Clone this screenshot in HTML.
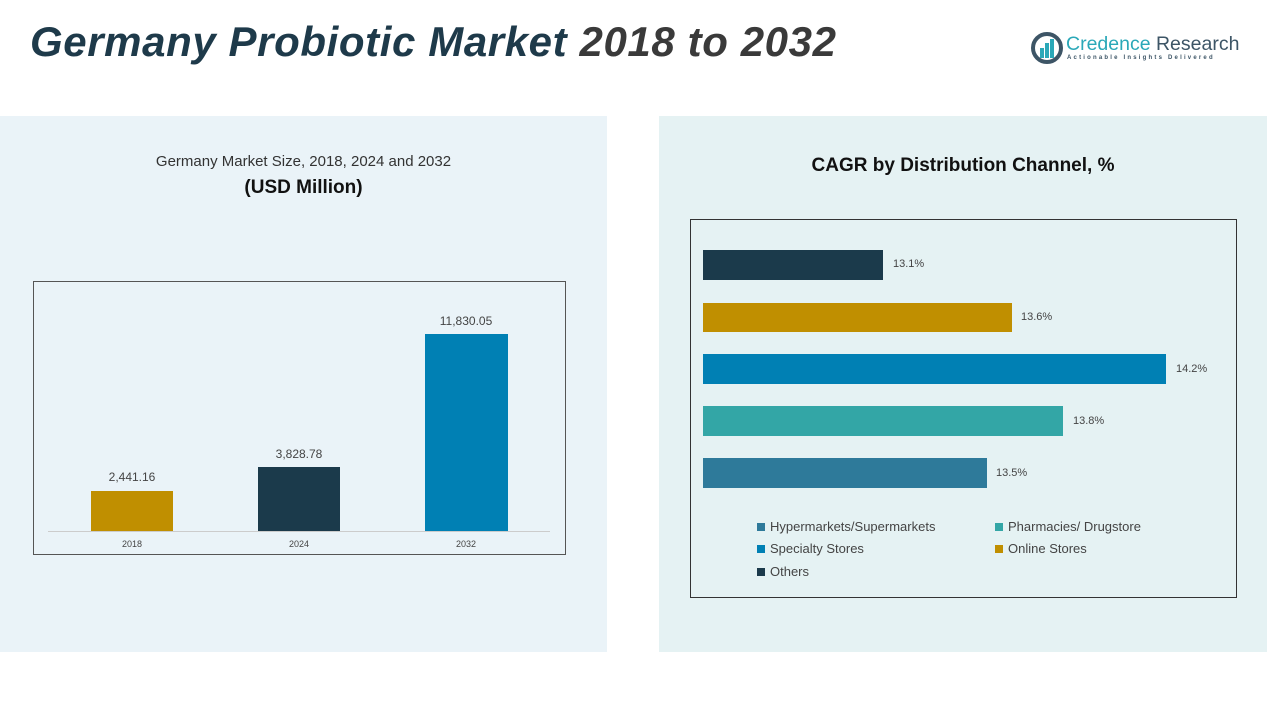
<!DOCTYPE html>
<html><head><meta charset="utf-8"><style>
body{margin:0;width:1267px;height:713px;background:#fff;position:relative;overflow:hidden;font-family:"Liberation Sans",sans-serif;}
.a{position:absolute}
.t{white-space:nowrap}
</style></head><body>
<div class="a t" style="left:30px;top:18px;font-size:42px;font-weight:bold;font-style:italic;color:#1e3a4a;letter-spacing:0.6px">Germany Probiotic Market <span style="color:#3a3a3a">2018 to 2032</span></div>
<svg class="a" style="left:1031px;top:32px" width="32" height="32"><circle cx="16" cy="16" r="14" fill="none" stroke="#3d5566" stroke-width="4"/><rect x="9" y="16" width="4" height="10" fill="#2aa8b8"/><rect x="14" y="11" width="4" height="15" fill="#2aa8b8"/><rect x="19" y="7" width="4" height="19" fill="#2aa8b8"/></svg>
<div class="a t" style="left:1066px;top:33px;font-size:19.5px;color:#2aa8b8">Credence <span style="color:#3d5566">Research</span></div>
<div class="a t" style="left:1067px;top:55px;font-size:6px;letter-spacing:2.2px;color:#3d5566;font-weight:bold">Actionable Insights Delivered</div>

<div class="a" style="left:0;top:116px;width:607px;height:536px;background:#eaf3f8"></div>
<div class="a" style="left:659px;top:116px;width:608px;height:536px;background:#e5f2f3"></div>

<div class="a t" style="left:0;width:607px;text-align:center;top:153px;font-size:15px;color:#333">Germany Market Size, 2018, 2024 and 2032</div>
<div class="a t" style="left:0;width:607px;text-align:center;top:177px;font-size:19px;font-weight:bold;color:#111">(USD Million)</div>

<div class="a" style="left:33px;top:281px;width:531px;height:272px;border:1px solid #555"></div>
<div class="a" style="left:48px;top:531px;width:502px;height:1px;background:#ccc"></div>
<div class="a" style="left:91px;top:491px;width:82px;height:40px;background:#c08f00"></div>
<div class="a" style="left:258px;top:467px;width:82px;height:64px;background:#1b3a4b"></div>
<div class="a" style="left:425px;top:334px;width:83px;height:197px;background:#0080b4"></div>
<div class="a t" style="left:82px;width:100px;text-align:center;top:470px;font-size:12px;color:#444">2,441.16</div>
<div class="a t" style="left:249px;width:100px;text-align:center;top:447px;font-size:12px;color:#444">3,828.78</div>
<div class="a t" style="left:416px;width:100px;text-align:center;top:314px;font-size:12px;color:#444">11,830.05</div>
<div class="a t" style="left:82px;width:100px;text-align:center;top:539px;font-size:9px;color:#444">2018</div>
<div class="a t" style="left:249px;width:100px;text-align:center;top:539px;font-size:9px;color:#444">2024</div>
<div class="a t" style="left:416px;width:100px;text-align:center;top:539px;font-size:9px;color:#444">2032</div>

<div class="a t" style="left:659px;width:608px;text-align:center;top:155px;font-size:19px;font-weight:bold;color:#111">CAGR by Distribution Channel, %</div>
<div class="a" style="left:690px;top:219px;width:545px;height:377px;border:1px solid #333"></div>
<div class="a" style="left:703px;top:250px;width:180px;height:30px;background:#1b3a4b"></div>
<div class="a" style="left:703px;top:303px;width:309px;height:29px;background:#c08f00"></div>
<div class="a" style="left:703px;top:354px;width:463px;height:30px;background:#0080b4"></div>
<div class="a" style="left:703px;top:406px;width:360px;height:30px;background:#33a6a6"></div>
<div class="a" style="left:703px;top:458px;width:284px;height:30px;background:#2e7a9a"></div>
<div class="a t" style="left:893px;top:258px;font-size:11px;color:#444">13.1%</div>
<div class="a t" style="left:1021px;top:311px;font-size:11px;color:#444">13.6%</div>
<div class="a t" style="left:1176px;top:363px;font-size:11px;color:#444">14.2%</div>
<div class="a t" style="left:1073px;top:415px;font-size:11px;color:#444">13.8%</div>
<div class="a t" style="left:996px;top:467px;font-size:11px;color:#444">13.5%</div>

<div class="a t" style="left:757px;top:519px;font-size:13px;color:#444"><span style="display:inline-block;width:8px;height:8px;background:#2e7a9a;margin-right:5px"></span>Hypermarkets/Supermarkets</div>
<div class="a t" style="left:995px;top:519px;font-size:13px;color:#444"><span style="display:inline-block;width:8px;height:8px;background:#33a6a6;margin-right:5px"></span>Pharmacies/ Drugstore</div>
<div class="a t" style="left:757px;top:541px;font-size:13px;color:#444"><span style="display:inline-block;width:8px;height:8px;background:#0080b4;margin-right:5px"></span>Specialty Stores</div>
<div class="a t" style="left:995px;top:541px;font-size:13px;color:#444"><span style="display:inline-block;width:8px;height:8px;background:#c08f00;margin-right:5px"></span>Online Stores</div>
<div class="a t" style="left:757px;top:564px;font-size:13px;color:#444"><span style="display:inline-block;width:8px;height:8px;background:#1b3a4b;margin-right:5px"></span>Others</div>
</body></html>
